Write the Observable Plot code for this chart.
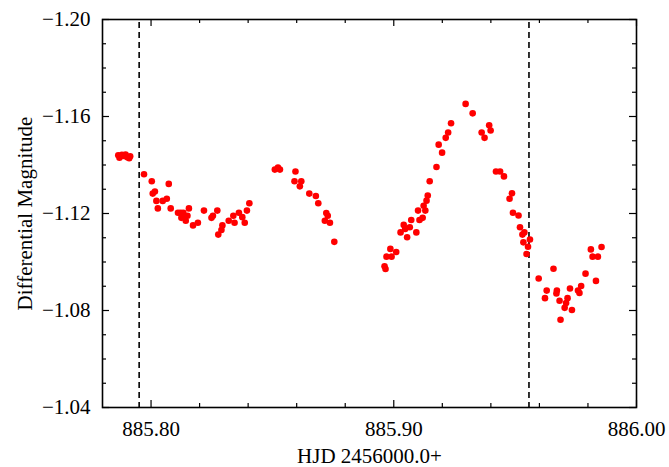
<!DOCTYPE html>
<html>
<head>
<meta charset="utf-8">
<script src="https://cdn.jsdelivr.net/npm/d3@7"></script>
<script src="https://cdn.jsdelivr.net/npm/@observablehq/plot@0.6"></script>
<style>
  html, body { margin: 0; padding: 0; background: white; }
</style>
</head>
<body>
<div id="chart"></div>
<script>
// HJD - 2456000.0
const hjd = [
  885.7865, 885.7870, 885.7880, 885.7888, 885.7895, 885.7902, 885.7910, 885.7914,
  885.7971, 885.8003, 885.8007, 885.8016, 885.8022, 885.8028, 885.8048, 885.8065,
  885.8073, 885.8081, 885.8111, 885.8122, 885.8129, 885.8133, 885.8125, 885.8143,
  885.8150, 885.8156, 885.8173, 885.8193, 885.8218, 885.8249, 885.8255, 885.8273,
  885.8277, 885.8290, 885.8294, 885.8320, 885.8339, 885.8344, 885.8362, 885.8376,
  885.8386, 885.8395, 885.8405,
  885.8510, 885.8523, 885.8531, 885.8595, 885.8591, 885.8619, 885.8613, 885.8652,
  885.8679, 885.8689, 885.8722, 885.8728, 885.8716, 885.8737, 885.8755,
  885.8962, 885.8966, 885.8970, 885.8986, 885.8991, 885.9010, 885.9028, 885.9041,
  885.9047, 885.9055, 885.9066, 885.9072, 885.9093, 885.9106, 885.9100, 885.9119,
  885.9123, 885.9130, 885.9135, 885.9140, 885.9148, 885.9176, 885.9199, 885.9185,
  885.9214, 885.9224, 885.9236, 885.9296, 885.9325, 885.9362, 885.9374, 885.9393,
  885.9399, 885.9421, 885.9438, 885.9454, 885.9487, 885.9477, 885.9491, 885.9514,
  885.9520, 885.9538, 885.9530, 885.9561, 885.9534, 885.9553, 885.9547,
  885.9597, 885.9658, 885.9630, 885.9623, 885.9672, 885.9670, 885.9683, 885.9704,
  885.9710, 885.9716, 885.9726, 885.9734, 885.9687, 885.9759, 885.9765, 885.9772,
  885.9790, 885.9812, 885.9819, 885.9841, 885.9856, 885.9833
];
// Differential magnitude
const mag = [
  -1.1440, -1.1430, -1.1442, -1.1437, -1.1443, -1.1432, -1.1428, -1.1436,
  -1.1362, -1.1333, -1.1282, -1.1291, -1.1252, -1.1221, -1.1252, -1.1261,
  -1.1322, -1.1221, -1.1203, -1.1203, -1.1187, -1.1203, -1.1182, -1.1170,
  -1.1191, -1.1221, -1.1151, -1.1162, -1.1212, -1.1182, -1.1191, -1.1212,
  -1.1113, -1.1132, -1.1151, -1.1170, -1.1191, -1.1162, -1.1203, -1.1185,
  -1.1162, -1.1212, -1.1242,
  -1.1381, -1.1390, -1.1381, -1.1373, -1.1333, -1.1333, -1.1312, -1.1282,
  -1.1272, -1.1242, -1.1202, -1.1191, -1.1170, -1.1162, -1.1083,
  -1.0982, -1.0971, -1.1022, -1.1054, -1.1022, -1.1041, -1.1122, -1.1153,
  -1.1136, -1.1102, -1.1143, -1.1173, -1.1122, -1.1173, -1.1212, -1.1182,
  -1.1232, -1.1212, -1.1253, -1.1274, -1.1333, -1.1392, -1.1451, -1.1484,
  -1.1512, -1.1534, -1.1572, -1.1652, -1.1613, -1.1534, -1.1512, -1.1564,
  -1.1542, -1.1373, -1.1373, -1.1353, -1.1283, -1.1261, -1.1203, -1.1192,
  -1.1143, -1.1122, -1.1113, -1.1093, -1.1081, -1.1063, -1.1033,
  -1.0932, -1.0972, -1.0882, -1.0851, -1.0882, -1.0870, -1.0840, -1.0811,
  -1.0831, -1.0851, -1.0891, -1.0802, -1.0762, -1.0882, -1.0872, -1.0901,
  -1.0952, -1.1052, -1.1022, -1.1022, -1.1062, -1.0922
];
// vertical dashed markers
const markers = [885.7951, 885.9557];
// axis ticks
const xMajorTicks = [885.80, 885.90, 886.00];
const xMinorTicks = [885.82, 885.84, 885.86, 885.88, 885.92, 885.94, 885.96, 885.98];
const yMajorTicks = [-1.20, -1.16, -1.12, -1.08, -1.04];
const yMinorTicks = [-1.19, -1.18, -1.17, -1.15, -1.14, -1.13, -1.11, -1.10, -1.09, -1.07, -1.06, -1.05];
const xTitle = "HJD 2456000.0+";
const yTitle = "Differential Magnitude";

const data = hjd.map((x, i) => ({x, y: mag[i]}));

const W = 669, H = 467, mL = 102, mR = 33, mT = 19, mB = 60;
const pw = W - mL - mR, ph = H - mT - mB;
const majorLen = 7, minorLen = 4;

const chart = Plot.plot({
  width: W, height: H,
  marginLeft: mL, marginRight: mR, marginTop: mT, marginBottom: mB,
  style: {fontFamily: "'Liberation Serif', 'DejaVu Serif', serif", fontSize: "21px", background: "white", color: "black"},
  x: {domain: [885.78, 886.00]},
  y: {domain: [-1.20, -1.04], reverse: true},
  marks: [
    Plot.ruleX(markers, {x: d => d, stroke: "black", strokeWidth: 1.6, strokeDasharray: "6,4", strokeDashoffset: -3}),
    Plot.dot(data, {x: "x", y: "y", r: 3.3, fill: "#ff0000", stroke: "none"}),
    // inward ticks on all four sides
    Plot.tickX(xMajorTicks, {x: d => d, insetTop: ph - majorLen, stroke: "black", strokeWidth: 1.2}),
    Plot.tickX(xMajorTicks, {x: d => d, insetBottom: ph - majorLen, stroke: "black", strokeWidth: 1.2}),
    Plot.tickX(xMinorTicks, {x: d => d, insetTop: ph - minorLen, stroke: "black", strokeWidth: 1.2}),
    Plot.tickX(xMinorTicks, {x: d => d, insetBottom: ph - minorLen, stroke: "black", strokeWidth: 1.2}),
    Plot.tickY(yMajorTicks, {y: d => d, insetRight: pw - majorLen, stroke: "black", strokeWidth: 1.2}),
    Plot.tickY(yMajorTicks, {y: d => d, insetLeft: pw - majorLen, stroke: "black", strokeWidth: 1.2}),
    Plot.tickY(yMinorTicks, {y: d => d, insetRight: pw - minorLen, stroke: "black", strokeWidth: 1.2}),
    Plot.tickY(yMinorTicks, {y: d => d, insetLeft: pw - minorLen, stroke: "black", strokeWidth: 1.2}),
    Plot.frame({stroke: "black", strokeWidth: 1.6}),
    Plot.axisX(xMajorTicks, {tickSize: 0, tickPadding: 14, tickFormat: d3.format(".2f"), label: null}),
    Plot.axisY(yMajorTicks, {tickSize: 0, tickPadding: 12, tickFormat: d3.format(".2f"), label: null}),
    Plot.text([xTitle], {text: d => d, frameAnchor: "bottom", textAnchor: "middle", dy: 55, lineAnchor: "bottom", fill: "black"}),
    Plot.text([yTitle], {text: d => d, frameAnchor: "left", textAnchor: "middle", dx: -71, rotate: -90, lineAnchor: "bottom", fill: "black"})
  ]
});
document.getElementById("chart").appendChild(chart);
</script>
</body>
</html>
